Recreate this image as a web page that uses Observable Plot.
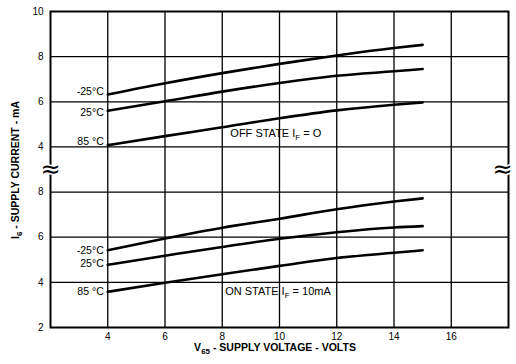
<!DOCTYPE html>
<html>
<head>
<meta charset="utf-8">
<script src="https://cdn.jsdelivr.net/npm/d3@7"></script>
<script src="https://cdn.jsdelivr.net/npm/@observablehq/plot@0.6"></script>
<style>
  html, body { margin: 0; padding: 0; background: white; }
  #chart { width: 516px; height: 364px; }
</style>
</head>
<body>
<div id="chart"></div>
<script>
// ---- data ----
const voltage = [4, 6, 8, 10, 12, 14, 15];
// OFF state (IF = 0) — upper panel
const offMinus25 = [6.32, 6.82, 7.27, 7.68, 8.05, 8.38, 8.52];
const off25      = [5.60, 6.02, 6.45, 6.83, 7.15, 7.35, 7.45];
const off85      = [4.08, 4.48, 4.87, 5.27, 5.62, 5.87, 5.97];
// ON state (IF = 10mA) — lower panel
const onMinus25  = [5.42, 5.94, 6.42, 6.82, 7.24, 7.58, 7.72];
const on25       = [4.78, 5.18, 5.57, 5.93, 6.22, 6.43, 6.49];
const on85       = [3.58, 3.98, 4.36, 4.73, 5.08, 5.31, 5.42];

const xTicks = [4, 6, 8, 10, 12, 14, 16];
const lowerTicks = [2, 4, 6, 8];
const upperTicks = [4, 6, 8, 10];
const tempLabels = ["-25°C", "25°C", "85 °C"];
const stateTexts = [
  {panel: "off", pre: "OFF STATE I", sub: "F", post: " = O", v: 8.3, i: 4.58},
  {panel: "on",  pre: "ON STATE I",  sub: "F", post: " = 10mA", v: 8.12, i: 3.57}
];

// upper panel is drawn above the lower one on a shared vertical scale
const OFFSET = 6;
const pos = (panel, i) => panel === "off" ? i + OFFSET : i;

const seriesDefs = [
  {panel: "off", temp: tempLabels[0], vals: offMinus25, dy: -3},
  {panel: "off", temp: tempLabels[1], vals: off25, dy: 2},
  {panel: "off", temp: tempLabels[2], vals: off85, dy: -3},
  {panel: "on",  temp: tempLabels[0], vals: onMinus25, dy: 0},
  {panel: "on",  temp: tempLabels[1], vals: on25, dy: -1},
  {panel: "on",  temp: tempLabels[2], vals: on85, dy: 0}
];
const rows = seriesDefs.flatMap(s => voltage.map((v, k) => ({
  key: s.panel + s.temp, panel: s.panel, temp: s.temp, v, i: s.vals[k], p: pos(s.panel, s.vals[k])
})));

const yTickPos = [...lowerTicks, ...upperTicks.map(t => t + OFFSET)];
const yTickLabel = new Map([...lowerTicks.map(t => [t, t]), ...upperTicks.map(t => [t + OFFSET, t])]);
const gridPos = yTickPos.slice(1, -1);

const FONT = "'Liberation Sans', Arial, Helvetica, sans-serif";

const plot = Plot.plot({
  width: 516,
  height: 364,
  marginLeft: 50,
  marginRight: 8,
  marginTop: 11,
  marginBottom: 37,
  x: {domain: [2, 18]},
  y: {domain: [2, 16]},
  style: {fontFamily: FONT, fontSize: "10px", color: "black", background: "white", overflow: "visible"},
  marks: [
    Plot.ruleY(gridPos, {stroke: "black", strokeWidth: 1.3}),
    Plot.ruleX(xTicks, {stroke: "black", strokeWidth: 1.3}),
    Plot.frame({stroke: "black", strokeWidth: 2}),
    Plot.axisX({ticks: xTicks, tickSize: 0, tickPadding: 5, label: null, fontSize: 10}),
    Plot.axisY({ticks: yTickPos, tickSize: 0, tickPadding: 7, label: null, fontSize: 10,
      tickFormat: d => yTickLabel.get(d)}),
    Plot.line(rows, {x: "v", y: "p", z: "key", curve: "monotone-x", stroke: "black", strokeWidth: 2.6}),
    ...seriesDefs.map(s => Plot.text(rows.filter(r => r.key === s.panel + s.temp && r.v === voltage[0]), {
      x: "v", y: "p", text: "temp", textAnchor: "end", dx: -4, dy: s.dy, fontSize: 10.5
    })),
    Plot.text([{x: 2, d: 1}, {x: 18, d: -5}], {
      x: "x", y: () => 9, text: () => "≈", fontSize: 24, fontFamily: "DejaVu Sans",
      stroke: "white", strokeWidth: 3, fill: "black"
    })
  ]
});

document.getElementById("chart").appendChild(plot);

// shift the right-hand break mark inwards so it is not clipped
d3.select(plot).selectAll("text").filter(function () { return this.textContent === "≈"; })
  .each(function (d, k) { if (k === 1) d3.select(this).attr("dx", -6); });

// ---- texts with subscripts ----
const svg = d3.select(plot);
const xs = plot.scale("x"), ys = plot.scale("y");

for (const s of stateTexts) {
  const t = svg.append("text")
    .attr("x", xs.apply(s.v)).attr("y", ys.apply(pos(s.panel, s.i)))
    .attr("dy", "0.35em").attr("text-anchor", "start")
    .attr("font-family", FONT).attr("font-size", 11).attr("fill", "black");
  t.append("tspan").text(s.pre);
  t.append("tspan").attr("font-size", 8).attr("dy", 3).text(s.sub);
  t.append("tspan").attr("dy", -3).text(s.post);
}

const xl = svg.append("text")
  .attr("x", 275).attr("y", 351)
  .attr("text-anchor", "middle")
  .attr("font-family", FONT).attr("font-weight", "bold").attr("font-size", 10.5).attr("fill", "black");
xl.append("tspan").text("V");
xl.append("tspan").attr("font-size", 8).attr("dy", 3).text("65");
xl.append("tspan").attr("dy", -3).text(" - SUPPLY VOLTAGE - VOLTS");

const yl = svg.append("text")
  .attr("transform", "translate(19,170) rotate(-90)")
  .attr("text-anchor", "middle")
  .attr("font-family", FONT).attr("font-weight", "bold").attr("font-size", 10.5).attr("fill", "black");
yl.append("tspan").text("I");
yl.append("tspan").attr("font-size", 8).attr("dy", 3).text("6");
yl.append("tspan").attr("dy", -3).text(" - SUPPLY CURRENT - mA");
</script>
</body>
</html>
